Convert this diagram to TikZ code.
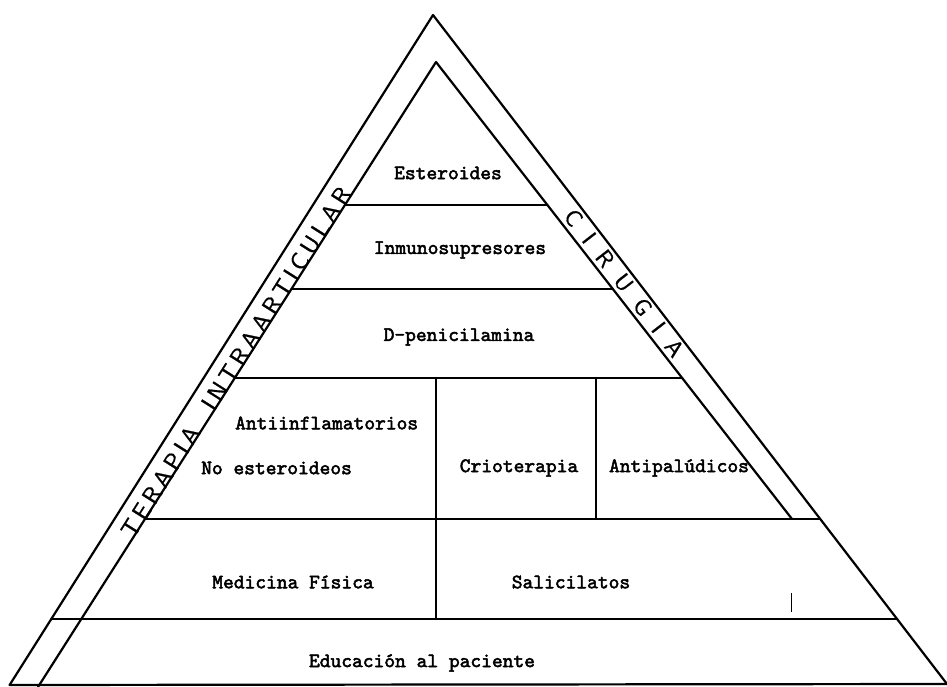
\documentclass[tikz,border=0pt]{standalone}
\usepackage{fontspec}
% typewritten labels and hand-lettered strip labels
\newfontfamily\typerface{lmmono10-regular.otf}[FakeBold=2.4]
\newfontfamily\handface{lmsans10-regular.otf}[LetterSpace=18, FakeBold=0.8]
\newfontfamily\handwideface{lmsans10-regular.otf}[LetterSpace=66, FakeBold=0.8]
\newcommand\typefont{\typerface\fontsize{20.5}{24}\selectfont}
\newcommand\handfont{\handface\fontsize{24}{28}\selectfont}
\newcommand\handwide{\handwideface\fontsize{23}{28}\selectfont}
\tikzset{
  rule/.style={line width=2.2pt, line cap=round, line join=round},
  typed/.style={font=\typefont, inner sep=0pt},
  scribble/.style={font=\handfont, inner sep=0pt},
  scribblewide/.style={font=\handwide, inner sep=0pt},
}
\begin{document}
\begin{tikzpicture}[x=1pt, y=-1pt]
\useasboundingbox (0,0) rectangle (947,687);
% outer triangle
\coordinate (OA) at (433,15);
\coordinate (OL) at (9.6,685);
\coordinate (OR) at (947,684);
% inner triangle
\coordinate (IA) at (436,62);
\coordinate (IL) at (38,687);
\coordinate (IR) at (792,519);
% tier boundaries
\coordinate (h1l) at (345,205);   \coordinate (h1r) at (547.4,205);
\coordinate (h2l) at (291.4,289); \coordinate (h2r) at (612.8,289);
\coordinate (h3l) at (234.8,378); \coordinate (h3r) at (682.2,378);
\coordinate (h4l) at (145,519);   \coordinate (h4r) at (820,519);
\coordinate (h5l) at (51.3,619);  \coordinate (h5r) at (896.9,619);
% column dividers
\coordinate (v1t) at (436,378); \coordinate (v1b) at (436,619);
\coordinate (v2t) at (596,378); \coordinate (v2b) at (596,519);
% stray tick
\coordinate (tkt) at (791,593); \coordinate (tkb) at (791,612);

\draw[rule] (OL) -- (OA) -- (OR);
\draw[rule] (IL) -- (IA) -- (IR);
\draw[rule] (OL) -- (OR);
\draw[rule] (h1l) -- (h1r);
\draw[rule] (h2l) -- (h2r);
\draw[rule] (h3l) -- (h3r);
\draw[rule] (h4l) -- (h4r);
\draw[rule] (h5l) -- (h5r);
\draw[rule] (v1t) -- (v1b);
\draw[rule] (v2t) -- (v2b);
\draw[line width=1pt] (tkt) -- (tkb);

% tier labels
\node[typed] (ester) at (448,173) {Esteroides};
\node[typed] (inmu) at (460,250) {Inmunosupresores};
\node[typed] (dpen) at (459,337) {D-penicilamina};
\node[typed, anchor=west] (aine1) at (235,423) {Antiinflamatorios};
\node[typed, anchor=west] (aine2) at (201,468) {No esteroideos};
\node[typed] (crio) at (519,468) {Crioterapia};
\node[typed] (antip) at (679,468) {Antipalúdicos};
\node[typed] (medfis) at (293,582) {Medicina Física};
\node[typed] (salic) at (571,582) {Salicilatos};
\node[typed] (educ) at (422,663) {Educación al paciente};

% strip labels
\node[scribble, rotate=57.7] (terapia) at (236,362) {TERAPIA\hspace{12pt} INTRAARTICULAR};
\node[scribblewide, rotate=-52.2] (cirugia) at (624,283) {CIRUGIA};
\end{tikzpicture}
\end{document}
